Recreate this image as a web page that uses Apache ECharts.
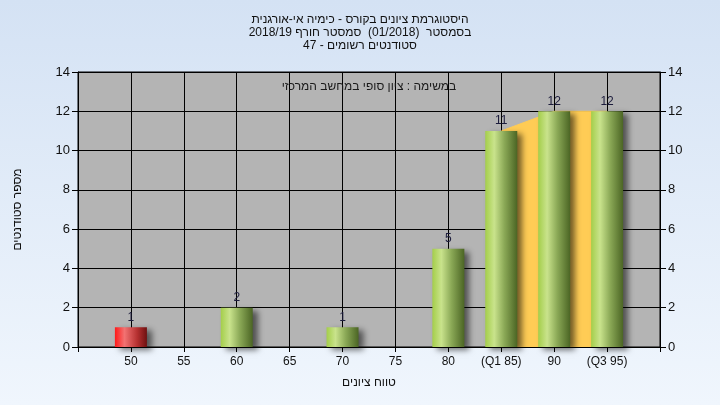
<!DOCTYPE html>
<html><head><meta charset="utf-8">
<script src="https://cdn.jsdelivr.net/npm/echarts@6/dist/echarts.min.js"></script>
<style>html,body{margin:0;padding:0;}#c{width:720px;height:405px;}</style>
</head><body><div id="c"></div>
<script>
const RLE = '\u202B', PDF = '\u202C';
const rtl = s => RLE + s + PDF;

const titleLines = ['היסטוגרמת ציונים בקורס - כימיה אי-אורגנית', 'בסמסטר  (01/2018)  סמסטר חורף 2018/19', 'סטודנטים רשומים - 47'];
const innerText = 'במשימה : ציון סופי במחשב המרכזי';
const xName = 'טווח ציונים';
const yName = 'מספר סטודנטים';
const categories = ['45', '50', '55', '60', '65', '70', '75', '80', '(Q1 85)', '90', '(Q3 95)', '100'];
const counts = [null, 1, null, 2, null, 1, null, 5, 11, 12, 12, null];
const failing = [false, true, false, false, false, false, false, false, false, false, false, false];
const quartileBand = [null, null, null, null, null, null, null, null, 11, 12, 12, null];
const yTicks = [0, 2, 4, 6, 8, 10, 12, 14];

const green = {type:'linear', x:0, y:0, x2:1, y2:0, colorStops:[
  {offset:0, color:'#A4CE4A'}, {offset:0.28, color:'#C9E38C'}, {offset:0.6, color:'#8AA856'}, {offset:1, color:'#4B6524'}]};
const red = {type:'linear', x:0, y:0, x2:1, y2:0, colorStops:[
  {offset:0, color:'#FF1A1A'}, {offset:0.3, color:'#F27272'}, {offset:0.7, color:'#B53030'}, {offset:1, color:'#6E1010'}]};

const barData = counts.map((v, i) => v === null ? null : {value: v, itemStyle: {color: failing[i] ? red : green}});

const chart = echarts.init(document.getElementById('c'));
const yAxisCommon = {
  type:'value', min: yTicks[0], max: yTicks[yTicks.length-1], interval: 2,
  axisLine:{show:true, lineStyle:{color:'#000'}},
  axisTick:{show:true, length:6, lineStyle:{color:'#000'}},
  axisLabel:{color:'#111', fontSize:13, fontFamily:'Liberation Sans, Arial'},
  splitLine:{show:true, lineStyle:{color:'#000', width:1}}
};
chart.setOption({
  backgroundColor:{type:'linear', x:0, y:0, x2:0, y2:1, colorStops:[{offset:0, color:'#D4E2F4'}, {offset:1, color:'#F0F6FD'}]},
  animation:false,
  title:{text: titleLines.map(rtl).join('\n'), left:'center', top:8,
    textStyle:{fontSize:12, fontWeight:'normal', color:'#111', lineHeight:13, fontFamily:'Liberation Sans, Arial'}},
  grid:{left:78, right:60, top:72, bottom:58, show:true, backgroundColor:'#B4B4B4', borderColor:'#000', borderWidth:1},
  xAxis:{type:'category', data: categories, boundaryGap:false,
    name: rtl(xName), nameLocation:'middle', nameGap:30,
    nameTextStyle:{color:'#111', fontSize:12, fontFamily:'Liberation Sans, Arial'},
    axisLine:{lineStyle:{color:'#000'}},
    axisTick:{show:true, length:5, interval:0, lineStyle:{color:'#000'}},
    axisLabel:{interval:0, color:'#111', fontSize:12, margin:9, fontFamily:'Liberation Sans, Arial',
      formatter:(v, i) => (i === 0 || i === categories.length-1) ? '' : v},
    splitLine:{show:true, interval:0, lineStyle:{color:'#000', width:1}}},
  yAxis:[
    Object.assign({}, yAxisCommon, {position:'left', name: rtl(yName), nameLocation:'middle', nameGap:54,
      nameTextStyle:{color:'#111', fontSize:12, fontFamily:'Liberation Sans, Arial'}}),
    Object.assign({}, yAxisCommon, {position:'right', splitLine:{show:false}})
  ],
  graphic:[{type:'text', x:369, y:87, style:{text: rtl(innerText), textAlign:'center', textVerticalAlign:'middle',
    fill:'#1a1a1a', font:'12px Liberation Sans, Arial'}, z:10}],
  series:[
    {type:'line', data: quartileBand, symbol:'none', connectNulls:false, z:2,
      lineStyle:{color:'#FFCC55', width:1}, areaStyle:{color:'#FFCC55', opacity:1}},
    {type:'bar', data: barData, barWidth:32, z:3,
      itemStyle:{shadowBlur:6, shadowColor:'rgba(0,0,0,0.55)', shadowOffsetX:5, shadowOffsetY:3},
      label:{show:true, position:'top', distance:4, color:'#1c1c3c', fontSize:12, fontFamily:'Liberation Sans, Arial'}}
  ]
});
</script></body></html>
